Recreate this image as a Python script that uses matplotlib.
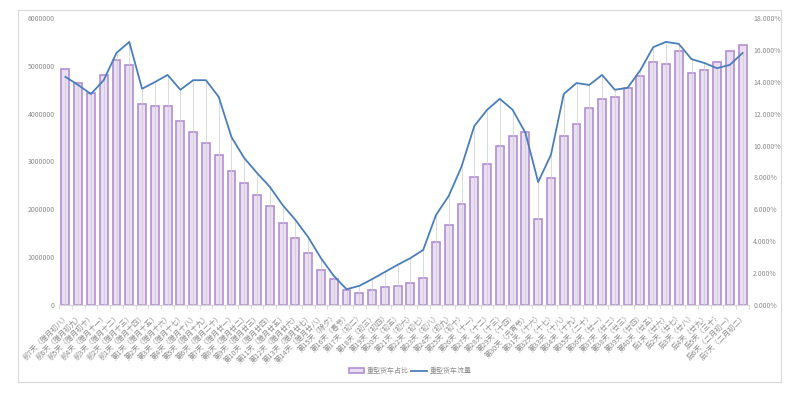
import matplotlib
matplotlib.use("Agg")
import matplotlib.pyplot as plt
from matplotlib.patches import Rectangle, Patch
from matplotlib.lines import Line2D
from matplotlib.ticker import FuncFormatter, MultipleLocator
import numpy as np

plt.rcParams['font.family'] = ['Noto Sans CJK SC', 'DejaVu Sans']

# ---------------------------------------------------------------------------
# 數據
# ---------------------------------------------------------------------------
days = [
    "前7天（腊月初八）", "前6天（腊月初九）", "前5天（腊月初十）", "前4天（腊月十一）",
    "前3天（腊月十二）", "前2天（腊月十三）", "前1天（腊月十四）", "第1天（腊月十五）",
    "第2天（腊月十六）", "第3天（腊月十七）", "第4天（腊月十八）", "第5天（腊月十九）",
    "第6天（腊月二十）", "第7天（腊月廿一）", "第8天（腊月廿二）", "第9天（腊月廿三）",
    "第10天（腊月廿四）", "第11天（腊月廿五）", "第12天（腊月廿六）", "第13天（腊月廿七）",
    "第14天（腊月廿八）", "第15天（除夕）", "第16天（春节）", "第17天（初二）",
    "第18天（初三）", "第19天（初四）", "第20天（初五）", "第21天（初六）",
    "第22天（初七）", "第23天（初八）", "第24天（初九）", "第25天（初十）",
    "第26天（十一）", "第27天（十二）", "第28天（十三）", "第29天（十四）",
    "第30天（元宵节）", "第31天（十六）", "第32天（十七）", "第33天（十八）",
    "第34天（十九）", "第35天（二十）", "第36天（廿一）", "第37天（廿二）",
    "第38天（廿三）", "第39天（廿四）", "第40天（廿五）", "后1天（廿六）",
    "后2天（廿七）", "后3天（廿八）", "后4天（廿九）", "后5天（三十）",
    "后6天（二月初一）", "后7天（二月初二）",
]

# 重型货车占比 (%) -> 柱
share_pct = [
    14.79, 13.92, 13.29, 14.43, 15.36, 15.06, 12.60, 12.48, 12.48, 11.55,
    10.86, 10.17, 9.42, 8.40, 7.65, 6.90, 6.21, 5.13, 4.20, 3.27,
    2.19, 1.62, 0.93, 0.75, 0.93, 1.14, 1.20, 1.38, 1.68, 3.96,
    5.01, 6.33, 8.04, 8.85, 9.96, 10.59, 10.86, 5.40, 7.98, 10.59,
    11.34, 12.36, 12.93, 13.05, 13.62, 14.37, 15.24, 15.12, 15.93, 14.55,
    14.73, 15.24, 15.93, 16.32,
]

# 重型货车流量 -> 折线
flow = [
    4770000, 4600000, 4410000, 4700000, 5270000, 5500000, 4520000, 4660000, 4810000, 4500000,
    4700000, 4700000, 4350000, 3510000, 3070000, 2760000, 2470000, 2090000, 1780000, 1420000,
    980000, 610000, 330000, 400000, 540000, 690000, 840000, 980000, 1150000, 1880000,
    2280000, 2890000, 3740000, 4080000, 4310000, 4080000, 3600000, 2570000, 3140000, 4410000,
    4640000, 4600000, 4810000, 4500000, 4540000, 4910000, 5390000, 5500000, 5460000, 5140000,
    5060000, 4950000, 5020000, 5270000,
]

TEXT = "#8c8c8c"
BAR_FACE = "#e9def2"
BAR_EDGE = "#b38fd3"
LINE = "#4a7ebb"

# ---------------------------------------------------------------------------
# 繪圖
# ---------------------------------------------------------------------------
W, H = 793, 395
fig = plt.figure(figsize=(W / 100, H / 100), dpi=100)
fig.patch.set_facecolor("white")

# 外框
fig.patches.append(Rectangle((18 / W, 1 - 382 / H), 763 / W, 372 / H,
                             transform=fig.transFigure, fill=False,
                             edgecolor="#d9d9d9", linewidth=0.8))

ax = fig.add_axes([59 / W, 1 - 305 / H, 690 / W, 287 / H])
ax2 = ax.twinx()

x = np.arange(len(days))

# 柱 (右軸)
ax2.bar(x, share_pct, width=0.62, color=BAR_FACE, edgecolor=BAR_EDGE,
        linewidth=1.2, zorder=2)
ax2.set_ylim(0, 18)
ax2.yaxis.set_major_locator(MultipleLocator(2))
ax2.yaxis.set_major_formatter(FuncFormatter(lambda v, p: f"{v:.3f}%"))

# 折線 (左軸), 放在柱上面
ax.set_zorder(ax2.get_zorder() + 1)
ax.patch.set_visible(False)
ax.vlines(x, 0, flow, color="#cccccc", linewidth=0.5, zorder=1)
ax.plot(x, flow, color=LINE, linewidth=1.3, zorder=3)
ax.set_ylim(0, 6000000)
ax.yaxis.set_major_locator(MultipleLocator(1000000))
ax.yaxis.set_major_formatter(FuncFormatter(lambda v, p: f"{int(v)}"))

ax.set_xlim(-0.5, len(days) - 0.5)
ax.set_xticks(x)
ax.set_xticklabels(days, rotation=45, ha="right", rotation_mode="anchor",
                   fontsize=5.2, color=TEXT)
ax.set_xticks(np.arange(-0.5, len(days), 1), minor=True)
ax.tick_params(axis="x", which="major", length=0, pad=5)
ax.tick_params(axis="x", which="minor", length=3, color="#d9d9d9", width=0.6)

for a in (ax, ax2):
    for s in ("top", "left", "right"):
        a.spines[s].set_visible(False)
    a.spines["bottom"].set_color("#d9d9d9")
    a.tick_params(axis="y", length=0, labelsize=5, labelcolor=TEXT, pad=3)

# 圖例
handles = [Patch(facecolor=BAR_FACE, edgecolor=BAR_EDGE, linewidth=1.2),
           Line2D([0], [0], color=LINE, linewidth=1.3)]
fig.legend(handles, ["重型货车占比", "重型货车流量"], loc="center",
           bbox_to_anchor=(410 / W, 1 - 371 / H), ncol=2, frameon=False,
           fontsize=5, labelcolor=TEXT, handlelength=2.2, handletextpad=0.4,
           columnspacing=0.4)

plt.savefig("out.png", dpi=100, facecolor="white")
plt.close()
